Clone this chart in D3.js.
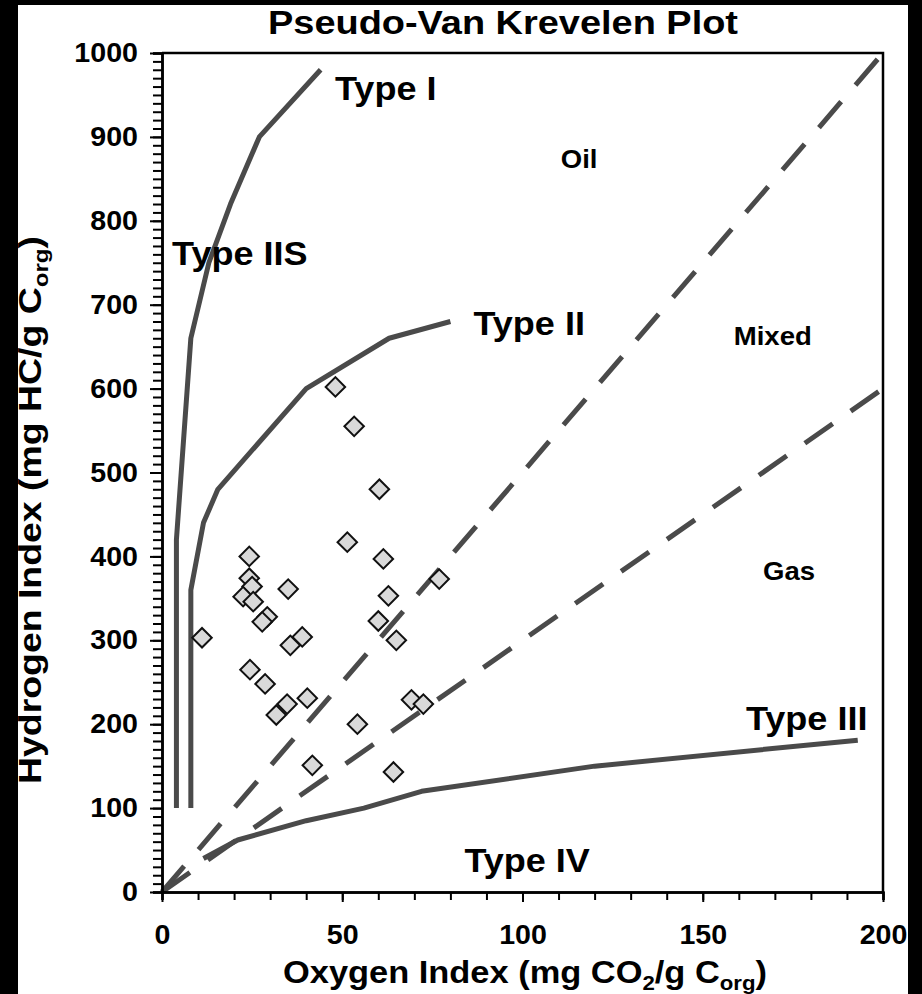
<!DOCTYPE html>
<html>
<head>
<meta charset="utf-8">
<script src="https://cdn.jsdelivr.net/npm/d3@7"></script>
<style>
  body { margin: 0; background: #fff; }
  svg { display: block; }
  text { font-family: "Liberation Sans", Arial, sans-serif; font-weight: bold; fill: #000; }
</style>
</head>
<body>
<svg id="chart" width="922" height="994"></svg>
<script>
// Kerogen type curves (Oxygen Index, Hydrogen Index)
const typeI = [[4, 100], [4, 420], [8, 660], [13, 750], [19, 820], [27, 900], [44, 980]];
const typeII = [[8, 100], [8, 360], [11.5, 440], [15.5, 480], [40, 600], [63, 660], [80, 680]];
const typeIII = [[11.5, 40], [21, 62], [40, 85], [56, 100], [72, 120], [120, 150], [193, 181]];

// Oil / mixed / gas boundaries (HI = 5 x OI and HI = 3 x OI)
const oilBoundary = [[0, 0], [200, 1000]];
const gasBoundary = [[0, 0], [200, 600]];

// Samples
const sampleOI = [48.1, 53.3, 60.3, 51.4, 61.4, 62.8, 60.0, 65.0, 76.9, 24.2,
                  24.2, 25.0, 22.5, 25.3, 35.0, 29.2, 27.8, 38.9, 35.6, 11.1,
                  24.4, 28.6, 40.3, 31.7, 34.7, 41.7, 54.2, 69.2, 72.5, 64.2];
const sampleHI = [602, 555, 480, 417, 397, 353, 323, 300, 373, 400,
                  374, 364, 352, 346, 361, 328, 322, 304, 294, 303,
                  265, 248, 231, 211, 224, 151, 200, 229, 224, 143];

// Region labels, placed in data units (left edge, baseline)
const bigLabels = [
  {text: "Type I", x: 48, y: 944},
  {text: "Type IIS", x: 2.8, y: 747},
  {text: "Type II", x: 86.4, y: 664},
  {text: "Type III", x: 162, y: 193},
  {text: "Type IV", x: 83.9, y: 24}
];
const zoneLabels = [
  {text: "Oil", x: 110.6, y: 863},
  {text: "Mixed", x: 158.6, y: 652},
  {text: "Gas", x: 166.7, y: 372}
];

const xMajor = [0, 50, 100, 150, 200];
const yMajor = [0, 100, 200, 300, 400, 500, 600, 700, 800, 900, 1000];

const svg = d3.select('#chart');
const sx = 1.06; // the original lettering is a little wide

const x = d3.scaleLinear().domain([0, 200]).range([162, 883]);
const y = d3.scaleLinear().domain([0, 1000]).range([892, 53]);

const lineGen = d3.line().x(d => x(d[0])).y(d => y(d[1]));

// dashed boundaries
[oilBoundary, gasBoundary].forEach(d => {
  svg.append('path')
    .attr('d', lineGen(d))
    .attr('fill', 'none')
    .attr('stroke', '#4a4a4a')
    .attr('stroke-width', 5)
    .attr('stroke-dasharray', '34,22');
});

// type curves
[typeI, typeII, typeIII].forEach(d => {
  svg.append('path')
    .attr('d', lineGen(d))
    .attr('fill', 'none')
    .attr('stroke', '#4a4a4a')
    .attr('stroke-width', 5)
    .attr('stroke-linejoin', 'round');
});

// samples
const diamond = d3.symbol().type(d3.symbolSquare).size(190);
svg.append('g').selectAll('path')
  .data(sampleOI.map((v, i) => [v, sampleHI[i]]))
  .join('path')
  .attr('d', diamond)
  .attr('transform', d => `translate(${x(d[0])},${y(d[1])}) rotate(45)`)
  .attr('fill', '#d9d9d9')
  .attr('stroke', '#111')
  .attr('stroke-width', 2);

// axes
const styleAxis = g => {
  g.attr('font-family', null).attr('font-size', null);
  g.select('.domain').attr('stroke-width', 2.5);
  g.selectAll('.tick line').attr('stroke-width', 2);
};

svg.append('g')
  .attr('transform', `translate(${x(0)},0)`)
  .call(d3.axisLeft(y).tickValues(d3.range(0, 1001, 10)).tickSize(9).tickFormat(''))
  .call(styleAxis);

const yAxis = svg.append('g')
  .attr('transform', `translate(${x(0)},0)`)
  .call(d3.axisLeft(y).tickValues(yMajor).tickSize(12).tickSizeOuter(0).tickFormat(d3.format('d')))
  .call(styleAxis);
yAxis.selectAll('text')
  .attr('font-size', 27)
  .attr('x', -24 / sx)
  .attr('transform', `scale(${sx},1)`);

svg.append('g')
  .attr('transform', `translate(0,${y(0)})`)
  .call(d3.axisBottom(x).tickValues(d3.range(0, 201, 10)).tickSize(8).tickFormat(''))
  .call(styleAxis);

const xAxis = svg.append('g')
  .attr('transform', `translate(0,${y(0)})`)
  .call(d3.axisBottom(x).tickValues(xMajor).tickSize(10).tickPadding(23).tickSizeOuter(0).tickFormat(d3.format('d')))
  .call(styleAxis);
xAxis.selectAll('text')
  .attr('font-size', 27)
  .attr('transform', `scale(${sx},1)`);

// frame top and right
svg.append('path')
  .attr('d', `M${x(0)},${y(1000)}H${x(200)}V${y(0)}`)
  .attr('fill', 'none')
  .attr('stroke', '#000')
  .attr('stroke-width', 2.5);

// labels
svg.append('g').selectAll('text')
  .data(bigLabels)
  .join('text')
  .attr('transform', d => `translate(${x(d.x)},${y(d.y)}) scale(${sx},1)`)
  .attr('font-size', 34)
  .text(d => d.text);

svg.append('g').selectAll('text')
  .data(zoneLabels)
  .join('text')
  .attr('transform', d => `translate(${x(d.x)},${y(d.y)}) scale(${sx},1)`)
  .attr('font-size', 26)
  .text(d => d.text);

// title
svg.append('text')
  .attr('x', 503)
  .attr('y', 34)
  .attr('text-anchor', 'middle')
  .attr('font-size', 33)
  .attr('textLength', 470)
  .attr('lengthAdjust', 'spacingAndGlyphs')
  .text('Pseudo-Van Krevelen Plot');

// x axis title
const xt = svg.append('text')
  .attr('x', 525)
  .attr('y', 983)
  .attr('text-anchor', 'middle')
  .attr('font-size', 31)
  .attr('textLength', 484)
  .attr('lengthAdjust', 'spacingAndGlyphs');
xt.append('tspan').text('Oxygen Index (mg CO');
xt.append('tspan').attr('font-size', 20).attr('dy', 7).text('2');
xt.append('tspan').attr('dy', -7).text('/g C');
xt.append('tspan').attr('font-size', 20).attr('dy', 7).text('org');
xt.append('tspan').attr('dy', -7).text(')');

// y axis title
const yt = svg.append('text')
  .attr('transform', 'translate(41,510) rotate(-90)')
  .attr('text-anchor', 'middle')
  .attr('font-size', 31)
  .attr('textLength', 548)
  .attr('lengthAdjust', 'spacingAndGlyphs');
yt.append('tspan').text('Hydrogen Index (mg HC/g C');
yt.append('tspan').attr('font-size', 20).attr('dy', 7).text('org');
yt.append('tspan').attr('dy', -7).text(')');

// black edges of the scanned page
svg.append('rect').attr('x', 0).attr('y', 0).attr('width', 18).attr('height', 994).attr('fill', '#000');
svg.append('rect').attr('x', 0).attr('y', 0).attr('width', 922).attr('height', 5).attr('fill', '#000');
svg.append('rect').attr('x', 908).attr('y', 0).attr('width', 14).attr('height', 994).attr('fill', '#000');
</script>
</body>
</html>
